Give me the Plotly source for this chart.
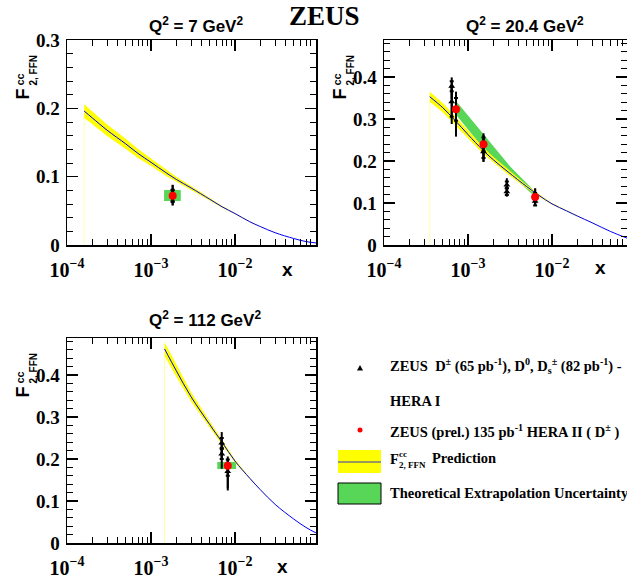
import plotly.graph_objects as go

W, H = 627, 579

# ---------------- data ----------------
y_tick_vals_q7 = [0, 0.1, 0.2, 0.3]
y_tick_text_q7 = ["0", "0.1", "0.2", "0.3"]
y_tick_vals = [0, 0.1, 0.2, 0.3, 0.4]
y_tick_text = ["0", "0.1", "0.2", "0.3", "0.4"]

titles = ["Q<sup>2</sup> = 7 GeV<sup>2</sup>",
          "Q<sup>2</sup> = 20.4 GeV<sup>2</sup>",
          "Q<sup>2</sup> = 112 GeV<sup>2</sup>"]

# Q2 = 7 GeV2 : F2cc FFN prediction (centre, half width of band)
pred7_x = [1.6e-4, 2e-4, 3e-4, 5e-4, 7e-4, 1e-3, 1.5e-3, 2e-3, 3e-3, 5e-3, 7e-3,
           1e-2, 1.5e-2, 2e-2, 3e-2, 5e-2, 7e-2, 9.2e-2]
pred7_f2 = [0.196, 0.186, 0.168, 0.148, 0.134, 0.121, 0.106, 0.096, 0.0835, 0.067, 0.056,
            0.046, 0.034, 0.027, 0.018, 0.0095, 0.005, 0.003]
pred7_unc = [0.0098, 0.0093, 0.0085, 0.0075, 0.0065, 0.0055, 0.0045, 0.004, 0.003, 0.002, 0.0015,
             0.001, 0.0006, 0.0004, 0.0002, 0.0, 0.0, 0.0]

# Q2 = 20.4 GeV2
pred20_x = [3.5e-4, 5e-4, 7e-4, 1e-3, 1.5e-3, 2e-3, 3e-3, 5e-3, 7e-3, 1e-2,
            1.5e-2, 2e-2, 3e-2, 5e-2, 7.9e-2]
pred20_f2 = [0.353, 0.327, 0.297, 0.263, 0.226, 0.203, 0.174, 0.139, 0.118, 0.098,
             0.081, 0.069, 0.053, 0.032, 0.016]
pred20_unc = [0.012, 0.011, 0.010, 0.009, 0.008, 0.007, 0.006, 0.004, 0.003, 0.002,
              0.0015, 0.001, 0.0005, 0.0, 0.0]

# Q2 = 112 GeV2
pred112_x = [1.45e-3, 2e-3, 3e-3, 5e-3, 7e-3, 1e-2, 1.5e-2, 2e-2, 3e-2, 5e-2, 7e-2, 9.2e-2]
pred112_f2 = [0.462, 0.410, 0.348, 0.282, 0.240, 0.195, 0.154, 0.127, 0.092, 0.057, 0.037, 0.024]
pred112_unc = [0.016, 0.014, 0.011, 0.008, 0.006, 0.004, 0.002, 0.001, 0.0005, 0.0, 0.0, 0.0]

# Theoretical extrapolation uncertainty (green)
extr7_x = [1.43e-3, 2.26e-3]
extr7_y = [0.0644, 0.0805]
extr20_x = [7.2e-4, 1.5e-3, 3.2e-3, 6.3e-3]
extr20_hi = [0.343, 0.266, 0.186, 0.127]
extr20_lo = [0.310, 0.232, 0.168, 0.115]
extr112_x = [6.15e-3, 1.03e-2]
extr112_y = [0.176, 0.193]

# ZEUS HERA II (prel.) D+- 135 pb-1 (red)
h2_7_x = [1.81e-3]
h2_7_y = [0.072]
h2_7_tot_up = [0.016]
h2_7_tot_dn = [0.014]
h2_7_stat = [0.009]

h2_20_x = [7.2e-4, 1.53e-3, 6.3e-3]
h2_20_y = [0.323, 0.240, 0.114]
h2_20_tot_up = [0.042, 0.026, 0.021]
h2_20_tot_dn = [0.065, 0.042, 0.019]
h2_20_stat = [0.027, 0.016, 0.010]

h2_112_x = [8.2e-3]
h2_112_y = [0.184]
h2_112_tot_up = [0.022]
h2_112_tot_dn = [0.059]
h2_112_stat = [0.015]

# ZEUS HERA I D+-, D0, Ds (black triangles)
h1_7_x = [1.81e-3]
h1_7_y = [0.072]
h1_7_tot_up = [0.016]
h1_7_tot_dn = [0.014]
h1_7_stat = [0.008]

h1_20_x = [6.4e-4, 6.4e-4, 1.53e-3, 2.9e-3, 2.9e-3, 6.3e-3]
h1_20_y = [0.378, 0.341, 0.222, 0.143, 0.127, 0.104]
h1_20_tot_up = [0.021, 0.030, 0.040, 0.016, 0.016, 0.030]
h1_20_tot_dn = [0.030, 0.053, 0.024, 0.016, 0.012, 0.009]
h1_20_stat = [0.012, 0.036, 0.015, 0.008, 0.008, 0.010]

h1_112_x = [6.95e-3, 6.95e-3, 8.2e-3]
h1_112_y = [0.238, 0.212, 0.170]
h1_112_tot_up = [0.026, 0.030, 0.030]
h1_112_tot_dn = [0.040, 0.035, 0.040]
h1_112_stat = [0.012, 0.012, 0.010]

# ---------------- styles ----------------
YELLOW = "#ffff00"
GREEN = "#57d657"
BLUE = "#0000ff"
SERIF = "Liberation Serif"
SANS = "Liberation Sans"


def px(x):
    return x / W


def py(y):
    return 1 - y / H


fig = go.Figure()


def add_panel(n, px_, f2, unc, green_fn, h1, h2):
    xa = "x" if n == 1 else f"x{n}"
    ya = "y" if n == 1 else f"y{n}"
    green_fn(xa, ya)
    up = [c + u for c, u in zip(f2, unc)]
    lo = [c - u for c, u in zip(f2, unc)]
    # faint left edge line of band
    fig.add_trace(go.Scatter(x=[px_[0], px_[0]], y=[0, lo[0]], mode="lines",
                             line=dict(color="#ffffa8", width=1), xaxis=xa, yaxis=ya,
                             showlegend=False, hoverinfo="skip"))
    fig.add_trace(go.Scatter(x=px_ + px_[::-1], y=up + lo[::-1], fill="toself",
                             fillcolor=YELLOW, line=dict(width=0), mode="lines",
                             xaxis=xa, yaxis=ya, showlegend=False, hoverinfo="skip"))
    fig.add_trace(go.Scatter(x=px_, y=f2, mode="lines", line=dict(color=BLUE, width=1, shape="spline"),
                             xaxis=xa, yaxis=ya, showlegend=False))
    for (xs, ys, tu, td, st, sym, col, size) in (h1 + h2):
        fig.add_trace(go.Scatter(
            x=xs, y=ys, mode="markers", marker=dict(size=1, color="rgba(0,0,0,0)"),
            error_y=dict(type="data", symmetric=False, array=tu, arrayminus=td,
                         color="black", thickness=2, width=0),
            xaxis=xa, yaxis=ya, showlegend=False, hoverinfo="skip"))
        fig.add_trace(go.Scatter(
            x=xs, y=ys, mode="markers", marker=dict(size=size, color=col, symbol=sym),
            error_y=dict(type="data", array=st, color="black", thickness=2, width=2),
            xaxis=xa, yaxis=ya, showlegend=False))


def green_box(xs, ys):
    def f(xa, ya):
        fig.add_trace(go.Scatter(x=[xs[0], xs[1], xs[1], xs[0], xs[0]],
                                 y=[ys[0], ys[0], ys[1], ys[1], ys[0]],
                                 fill="toself", fillcolor=GREEN, line=dict(width=0), mode="lines",
                                 xaxis=xa, yaxis=ya, showlegend=False, hoverinfo="skip"))
    return f


def green_band(xa, ya):
    fig.add_trace(go.Scatter(x=extr20_x + extr20_x[::-1], y=extr20_hi + extr20_lo[::-1],
                             fill="toself", fillcolor=GREEN, line=dict(width=0), mode="lines",
                             xaxis=xa, yaxis=ya, showlegend=False, hoverinfo="skip"))


add_panel(1, pred7_x, pred7_f2, pred7_unc, green_box(extr7_x, extr7_y),
          [(h1_7_x, h1_7_y, h1_7_tot_up, h1_7_tot_dn, h1_7_stat, "triangle-up", "black", 6)],
          [(h2_7_x, h2_7_y, h2_7_tot_up, h2_7_tot_dn, h2_7_stat, "circle", "red", 8)])
add_panel(2, pred20_x, pred20_f2, pred20_unc, green_band,
          [(h1_20_x, h1_20_y, h1_20_tot_up, h1_20_tot_dn, h1_20_stat, "triangle-up", "black", 6)],
          [(h2_20_x, h2_20_y, h2_20_tot_up, h2_20_tot_dn, h2_20_stat, "circle", "red", 8)])
add_panel(3, pred112_x, pred112_f2, pred112_unc, green_box(extr112_x, extr112_y),
          [(h1_112_x, h1_112_y, h1_112_tot_up, h1_112_tot_dn, h1_112_stat, "triangle-up", "black", 6)],
          [(h2_112_x, h2_112_y, h2_112_tot_up, h2_112_tot_dn, h2_112_stat, "circle", "red", 8)])

# ---------------- axes ----------------
panels = {
    1: dict(l=67, r=316, t=40, b=245, xr=[-4, -1.036], yr=[0, 0.3], yv=y_tick_vals_q7, yt=y_tick_text_q7),
    2: dict(l=384, r=627, t=40, b=245, xr=[-4, -1.107], yr=[0, 0.488], yv=y_tick_vals, yt=y_tick_text),
    3: dict(l=67, r=316, t=338, b=543, xr=[-4, -1.036], yr=[0, 0.488], yv=y_tick_vals, yt=y_tick_text),
}

layout_axes = {}
for n, p in panels.items():
    xk = "xaxis" if n == 1 else f"xaxis{n}"
    yk = "yaxis" if n == 1 else f"yaxis{n}"
    ya = "y" if n == 1 else f"y{n}"
    xa = "x" if n == 1 else f"x{n}"
    layout_axes[xk] = dict(
        type="log", domain=[px(p["l"]), min(px(p["r"]), 1.0)], range=p["xr"], anchor=ya,
        automargin=False,
        showline=True, linecolor="black", linewidth=1.5, mirror="allticks",
        ticks="inside", ticklen=11, tickwidth=1.2, tickcolor="black",
        dtick=1, exponentformat="power", showexponent="all",
        minor=dict(ticks="inside", ticklen=6, tickwidth=1, tickcolor="black", dtick="D1", showgrid=False),
        tickfont=dict(family=SERIF, size=16, color="black", weight="bold"),
        ticklabelstandoff=7, showgrid=False, zeroline=False, fixedrange=True)
    layout_axes[yk] = dict(
        domain=[py(p["b"]), py(p["t"])], range=p["yr"], anchor=xa,
        automargin=False,
        showline=True, linecolor="black", linewidth=1.5, mirror="allticks",
        ticks="inside", ticklen=11, tickwidth=1.2, tickcolor="black",
        tickmode="array", tickvals=p["yv"], ticktext=p["yt"],
        minor=dict(ticks="inside", ticklen=6, tickwidth=1, tickcolor="black", dtick=0.02, showgrid=False),
        tickfont=dict(family=SERIF, size=19, color="black", weight="bold"),
        ticklabelstandoff=2, showgrid=False, zeroline=False, fixedrange=True)

# ---------------- annotations ----------------
ann = []


def text(x, y, s, size, family=SANS, xanchor="center", angle=0, color="black"):
    ann.append(dict(x=px(x), y=py(y), xref="paper", yref="paper", text=s, showarrow=False,
                    xanchor=xanchor, yanchor="middle", textangle=angle,
                    font=dict(family=family, size=size, color=color, weight="bold")))


text(324, 16, "ZEUS", 27, family=SERIF)
title_pos = {1: (147, 25), 2: (464, 25), 3: (147, 319)}
xlab_pos = {1: (287, 269), 2: (600, 268), 3: (282, 566)}
for n, p in panels.items():
    tx, ty = title_pos[n]
    text(tx, ty, titles[n - 1], 17, xanchor="left")
    lx, ly = xlab_pos[n]
    text(lx, ly, "x", 19)
    L, T = p["l"], p["t"]
    text(L - 45, T + 54.5, "F", 18, angle=-90)
    text(L - 47.5, T + 40, "cc", 11, angle=-90)
    text(L - 34.5, T + 30, "2, FFN", 10, angle=-90)

# legend
NB = "\u00a0"
text(388, 366, "ZEUS" + NB + " D<sup>±</sup> (65 pb<sup>-1</sup>), D<sup>0</sup>, D<sub>s</sub><sup>±</sup> (82 pb<sup>-1</sup>) -",
     14.5, family=SERIF, xanchor="left")
text(388, 401, "HERA I", 14.5, family=SERIF, xanchor="left")
text(388, 431, "ZEUS (prel.) 135 pb<sup>-1</sup> HERA II ( D<sup>±</sup> )", 14.5, family=SERIF, xanchor="left")
text(388, 459, "F", 14.5, family=SERIF, xanchor="left")
text(397, 454, "cc", 9, family=SERIF, xanchor="left")
text(397, 465, "2, FFN", 9, family=SERIF, xanchor="left")
text(430, 458, "Prediction", 14.5, family=SERIF, xanchor="left")
text(388, 493, "Theoretical Extrapolation Uncertainty", 14.5, family=SERIF, xanchor="left")

shapes = [
    dict(type="path", xref="paper", yref="paper",
         path=f"M {px(357)},{py(370.5)} L {px(363)},{py(370.5)} L {px(360)},{py(365)} Z",
         fillcolor="black", line=dict(width=0)),
    dict(type="circle", xref="paper", yref="paper", x0=px(357.5), x1=px(362.5), y0=py(432.5), y1=py(427.5),
         fillcolor="red", line=dict(width=0)),
    dict(type="rect", xref="paper", yref="paper", x0=px(338), x1=px(381), y0=py(473), y1=py(450),
         fillcolor=YELLOW, line=dict(width=0)),
    dict(type="line", xref="paper", yref="paper", x0=px(338), x1=px(381), y0=py(462), y1=py(462),
         line=dict(color="#777777", width=1.5)),
    dict(type="rect", xref="paper", yref="paper", x0=px(338), x1=px(381), y0=py(504), y1=py(483),
         fillcolor=GREEN, line=dict(color="black", width=1)),
]

fig.update_layout(
    template="none",
    width=W, height=H, margin=dict(l=0, r=0, t=0, b=0, pad=0),
    paper_bgcolor="white", plot_bgcolor="white",
    annotations=ann, shapes=shapes, showlegend=False,
    **layout_axes,
)

fig.write_html("out.html", config={"displayModeBar": False, "staticPlot": True},
               post_script="document.body.style.margin='0px';document.body.style.overflow='hidden';")
